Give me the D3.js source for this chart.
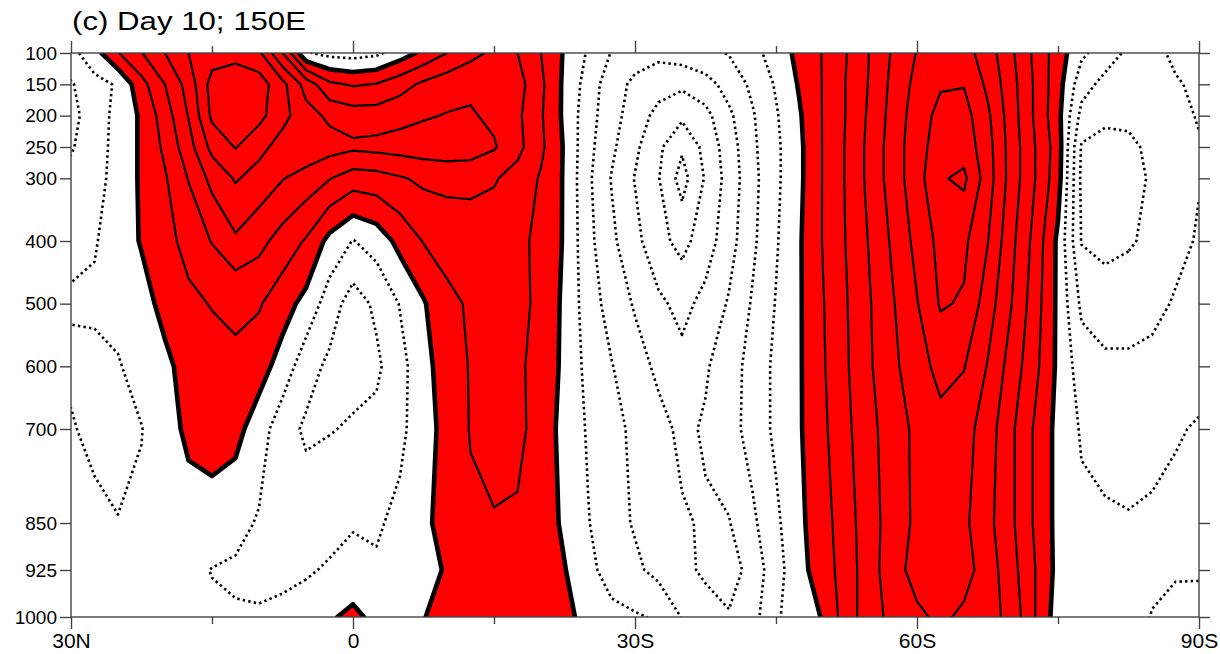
<!DOCTYPE html>
<html>
<head>
<meta charset="utf-8">
<script src="https://cdn.jsdelivr.net/npm/d3@7"></script>
<style>
  html, body { margin: 0; padding: 0; background: #fff; }
  svg { display: block; }
  text { font-family: "Liberation Sans", Arial, Helvetica, sans-serif; fill: #000; }
</style>
</head>
<body>
<svg id="chart" width="1220" height="654"></svg>
<script>
// Latitude grid (degrees, north positive) and pressure levels (hPa)
const lats = [30, 27.5, 25, 22.5, 20, 17.5, 15, 12.5, 10, 7.5, 5, 2.5, 0,
  -2.5, -5, -7.5, -10, -12.5, -15, -17.5, -20, -22.5, -25, -27.5, -30,
  -32.5, -35, -37.5, -40, -42.5, -45, -47.5, -50, -52.5, -55, -57.5, -60,
  -62.5, -65, -67.5, -70, -72.5, -75, -77.5, -80, -82.5, -85, -87.5, -90];
const levels = [100, 150, 200, 250, 300, 400, 500, 600, 700, 850, 925, 1000];

// Field values on each pressure level, 30N -> 90S
const p100 = [-1.3,-0.4,0.95,1.95,3.0,4.0,4.5,4.7,4.2,2.0,-0.9,-1.3,-1.4,-1.2,-0.5,0.25,1.0,1.7,2.2,2.0,1.0,-0.1,
  -1.1,-2.05,-2.6,-2.75,-2.5,-2.2,-1.95,-1.3,-0.6,0.3,
  1.05,1.98,3.05,4.15,5.05,5.6,5.4,4.5,3.2,1.8,0.5,-0.8,-1.5,-2.2,-2.3,-1.8,-1.5];
const p150 = [-2.1,-1.3,-0.9,0.65,2.0,3.4,5.4,5.6,5.5,4.3,2.6,1.2,0.9,1.05,1.6,2.2,2.6,2.8,2.8,2.4,1.2,-0.2,
  -1.4,-2.6,-3.2,-3.6,-3.8,-3.4,-2.6,-1.8,-0.9,0.1,
  1.05,2.05,3.1,4.3,5.3,5.9,5.95,4.8,3.4,1.9,0.4,-1.6,-2.3,-2.5,-2.4,-2.1,-1.8];
const p200 = [-2.3,-1.5,-0.7,0.15,1.5,3.05,5.2,5.55,5.3,4.3,3.4,2.8,2.5,2.5,2.7,2.9,3.05,3.1,2.8,2.2,1.1,-0.2,
  -1.6,-2.6,-3.5,-4.3,-4.8,-4.3,-3.2,-2.1,-1.1,-0.1,
  1.05,2.05,3.2,4.4,5.5,6.3,6.4,5.2,3.5,1.9,0.3,-2.3,-2.75,-2.8,-2.5,-2.2,-1.95];
const p250 = [-2.1,-1.4,-0.7,0.15,1.2,2.6,4.3,5.05,4.3,3.6,3.7,3.4,3.2,3.3,3.4,3.5,3.6,3.5,3.1,2.3,1.2,-0.1,
  -1.7,-2.8,-3.8,-4.8,-5.85,-4.7,-3.5,-2.2,-1.2,-0.2,
  1.05,2.1,3.3,4.5,5.6,6.5,6.6,5.4,3.6,2.05,0.5,-3.1,-3.4,-3.2,-2.8,-2.4,-2.05];
const p300 = [-1.7,-1.3,-0.7,0.15,0.9,2.05,3.3,4.1,3.6,3.05,2.6,2.05,1.5,1.6,1.9,2.2,2.3,2.3,2.1,1.6,0.9,-0.1,
  -1.8,-3.05,-4.05,-4.95,-6.4,-4.9,-3.6,-2.3,-1.2,-0.2,
  1.05,2.1,3.3,4.5,5.6,6.9,7.2,5.5,3.6,2.05,0.4,-3.2,-3.5,-3.3,-2.9,-2.4,-2.05];
const p400 = [-1.1,-1.05,-0.7,0.1,0.7,1.3,2.05,2.84,2.3,1.6,0.9,-0.3,-1.04,-0.6,0.3,1.05,1.3,1.4,1.4,1.2,0.8,-0.1,
  -1.7,-2.8,-3.7,-4.7,-5.3,-4.5,-3.4,-2.2,-1.1,-0.1,
  1.05,2.05,3.1,4.2,5.3,6.3,6.2,5.05,3.3,1.7,-0.2,-3.05,-3.3,-3.1,-2.8,-2.3,-1.9];
const p500 = [-0.95,-0.9,-0.8,-0.5,0.4,0.8,1.05,1.05,1.1,0.4,-0.3,-1.5,-2.47,-1.8,-0.95,-0.1,0.8,1.1,1.3,1.3,0.75,-0.2,
  -1.5,-2.4,-3.1,-3.8,-4.3,-3.7,-2.9,-1.9,-0.95,-0.1,
  0.95,1.95,2.95,3.95,4.95,6.1,5.9,4.5,3.05,1.5,-0.2,-2.2,-2.5,-2.5,-2.3,-1.9,-1.6];
const p600 = [-1.1,-1.15,-1.05,-0.75,-0.3,0.5,0.6,0.95,0.4,-0.4,-1.6,-2.2,-2.3,-2.2,-1.3,-0.4,0.6,1.05,1.2,1.2,0.6,-0.2,
  -1.3,-1.95,-2.6,-3.2,-3.7,-3.1,-2.5,-1.6,-0.8,-0.1,
  0.9,1.9,2.9,3.8,4.6,5.3,5.05,3.95,2.6,1.3,-0.2,-1.5,-1.8,-1.8,-1.7,-1.4,-1.2];
const p700 = [-0.95,-1.15,-1.2,-1.02,-0.6,0.3,0.6,0.3,-0.5,-1.6,-2.15,-2.05,-1.9,-1.7,-1.2,-0.5,0.4,1.05,1.5,1.3,0.5,-0.3,
  -1.1,-1.7,-2.2,-2.7,-3.2,-2.9,-2.4,-1.6,-0.8,-0.1,
  0.8,1.8,2.7,3.6,4.2,4.7,4.4,3.5,2.2,0.9,-0.3,-1.1,-1.25,-1.3,-1.2,-1.05,-0.95];
const p850 = [-0.6,-0.85,-0.98,-0.9,-0.7,-0.6,-0.6,-0.67,-1.1,-1.3,-1.5,-1.3,-1.05,-1.1,-0.8,-0.35,0.6,0.85,0.9,0.85,0.6,-0.2,
  -0.95,-1.6,-2.1,-2.5,-2.9,-3.1,-3.05,-2.2,-1.2,-0.2,
  0.6,1.6,2.6,3.5,4.2,4.5,4.2,3.3,2.2,0.9,-0.3,-0.8,-0.9,-0.95,-0.9,-0.85,-0.8];
const p925 = [-0.5,-0.6,-0.8,-0.9,-0.9,-0.85,-1.02,-1.15,-1.25,-1.2,-1.1,-0.9,-0.8,-0.9,-0.6,-0.7,0.2,0.9,0.9,0.8,0.6,0.05,
  -0.8,-1.3,-1.8,-2.3,-2.7,-3.2,-3.5,-2.6,-1.4,-0.3,
  0.5,1.5,2.6,3.6,4.4,4.6,4.4,3.5,2.4,1.05,-0.3,-0.7,-0.8,-0.85,-0.9,-0.95,-0.97];
const p1000 = [-0.4,-0.5,-0.6,-0.7,-0.8,-0.9,-0.9,-0.9,-0.9,-0.8,-0.6,-0.15,0.3,-0.35,-0.4,-0.05,0.5,0.7,0.8,0.8,0.7,0.4,
  -0.5,-0.8,-0.9,-1.1,-2.05,-2.5,-2.9,-2.4,-1.05,-0.8,
  0.1,1.5,2.6,3.3,3.8,4.2,3.8,3.4,2.7,1.05,-0.5,-0.6,-0.7,-0.8,-1.02,-1.15,-1.1];

// Contour levels
const negLevels = [-7, -6, -5, -4, -3, -2, -1];
const posLevels = [1, 2, 3, 4, 5, 6, 7, 8];

// Axis labels
const xMajor = [30, 0, -30, -60, -90];
const xMajorLabels = ["30N", "0", "30S", "60S", "90S"];
const xMinor = [15, -15, -45, -75];
const titleText = "(c) Day 10; 150E";

const field = [p100, p150, p200, p250, p300, p400, p500, p600, p700, p850, p925, p1000];

const frame = { left: 71, right: 1199, top: 53, bottom: 617 };
const svg = d3.select("#chart");

const x = d3.scaleLinear().domain([30, -90]).range([frame.left, frame.right]);
const y = d3.scaleLinear().domain([100, 1000]).range([frame.top, frame.bottom]);

// Grid padded by one cell on every side (edge values repeated) so that the
// contour rings close outside the frame and get clipped away.
const nx = lats.length, ny = levels.length;
const gx = nx + 2, gy = ny + 2;
const grid = new Float64Array(gx * gy);
for (let r = 0; r < gy; r++) {
  for (let c = 0; c < gx; c++) {
    const rr = Math.min(ny - 1, Math.max(0, r - 1));
    const cc = Math.min(nx - 1, Math.max(0, c - 1));
    grid[r * gx + c] = field[rr][cc];
  }
}

// Contour coordinates -> data coordinates -> pixels
function colToX(u) {
  const c = u - 1.5;
  return x(lats[0] + c * (lats[1] - lats[0]));
}
function rowToY(v) {
  const r = v - 1.5;
  if (r <= 0) return y(levels[0] + r * (levels[1] - levels[0]));
  if (r >= ny - 1) return y(levels[ny - 1] + (r - (ny - 1)) * (levels[ny - 1] - levels[ny - 2]));
  const i = Math.floor(r), f = r - i;
  return y(levels[i] + f * (levels[i + 1] - levels[i]));
}
const projection = d3.geoTransform({
  point(u, v) { this.stream.point(colToX(u), rowToY(v)); }
});
const path = d3.geoPath(projection);
const contourGen = d3.contours().size([gx, gy]);

svg.append("defs").append("clipPath").attr("id", "plotClip")
  .append("rect")
  .attr("x", frame.left).attr("y", frame.top)
  .attr("width", frame.right - frame.left)
  .attr("height", frame.bottom - frame.top);

const plot = svg.append("g").attr("clip-path", "url(#plotClip)");

// Positive area filled red
plot.append("path")
  .datum(contourGen.contour(grid, 0))
  .attr("d", path)
  .attr("fill", "#ff0000")
  .attr("stroke", "none");

// Negative contours: dotted
plot.append("g").selectAll("path")
  .data(negLevels.map(l => contourGen.contour(grid, l)))
  .join("path")
  .attr("d", path)
  .attr("fill", "none")
  .attr("stroke", "#000")
  .attr("stroke-width", 2.6)
  .attr("stroke-dasharray", "2.4 3.2")
  .attr("stroke-linejoin", "round");

// Positive contours: solid
plot.append("g").selectAll("path")
  .data(posLevels.map(l => contourGen.contour(grid, l)))
  .join("path")
  .attr("d", path)
  .attr("fill", "none")
  .attr("stroke", "#000")
  .attr("stroke-width", 2.2)
  .attr("stroke-linejoin", "round");

// Zero contour: thick
plot.append("path")
  .datum(contourGen.contour(grid, 0))
  .attr("d", path)
  .attr("fill", "none")
  .attr("stroke", "#000")
  .attr("stroke-width", 4.6)
  .attr("stroke-linejoin", "round");

// Frame
svg.append("rect")
  .attr("x", frame.left).attr("y", frame.top)
  .attr("width", frame.right - frame.left)
  .attr("height", frame.bottom - frame.top)
  .attr("fill", "none")
  .attr("stroke", "#444")
  .attr("stroke-width", 1.4);

function styleAxis(g) {
  g.select(".domain").remove();
  g.selectAll(".tick line").attr("stroke", "#444").attr("stroke-width", 1.4);
}

// Bottom axis: labelled majors, short minors
svg.append("g")
  .attr("transform", `translate(0,${frame.bottom})`)
  .call(d3.axisBottom(x).tickValues(xMajor).tickSize(12).tickPadding(4)
    .tickFormat((d, i) => xMajorLabels[i]))
  .call(styleAxis)
  .call(g => g.selectAll("text").attr("font-size", 21).style("font-family", "'Liberation Sans', Arial, sans-serif"));
svg.append("g")
  .attr("transform", `translate(0,${frame.bottom})`)
  .call(d3.axisBottom(x).tickValues(xMinor).tickSize(7).tickFormat(""))
  .call(styleAxis);

// Top axis (ticks only)
svg.append("g")
  .attr("transform", `translate(0,${frame.top})`)
  .call(d3.axisTop(x).tickValues(xMajor).tickSize(12).tickFormat(""))
  .call(styleAxis);
svg.append("g")
  .attr("transform", `translate(0,${frame.top})`)
  .call(d3.axisTop(x).tickValues(xMinor).tickSize(7).tickFormat(""))
  .call(styleAxis);

// Left axis with pressure labels
svg.append("g")
  .attr("transform", `translate(${frame.left},0)`)
  .call(d3.axisLeft(y).tickValues(levels).tickSize(11).tickPadding(3).tickFormat(d3.format("d")))
  .call(styleAxis)
  .call(g => g.selectAll("text").attr("font-size", 19).style("font-family", "'Liberation Sans', Arial, sans-serif"));

// Right axis (ticks only)
svg.append("g")
  .attr("transform", `translate(${frame.right},0)`)
  .call(d3.axisRight(y).tickValues(levels).tickSize(11).tickFormat(""))
  .call(styleAxis);

// Title
svg.append("text")
  .attr("x", 72).attr("y", 30)
  .attr("font-size", 25)
  .attr("textLength", 234)
  .attr("lengthAdjust", "spacingAndGlyphs")
  .text(titleText);
</script>
</body>
</html>
